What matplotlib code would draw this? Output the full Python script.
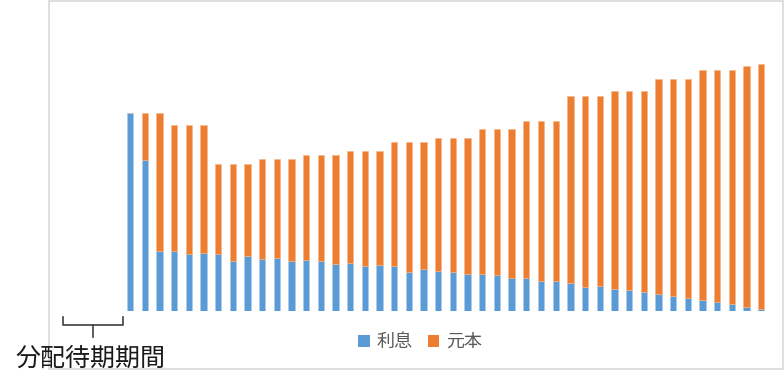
import matplotlib
matplotlib.use("Agg")
import matplotlib.pyplot as plt
from matplotlib.patches import Rectangle, Patch
from matplotlib.lines import Line2D

plt.rcParams['font.family'] = ['Noto Sans CJK JP', 'DejaVu Sans']

# periods: first 4 are the distribution waiting period (no payout)
periods = list(range(1, 49))
interest = [0, 0, 0, 0,
            198.3, 151.3, 59.7, 60.3, 57.3, 58.0, 56.7, 50.3, 55.0, 52.0,
            53.0, 50.3, 51.3, 50.3, 47.3, 48.0, 45.3, 46.0, 44.7, 39.0,
            42.0, 39.7, 39.3, 37.3, 37.3, 35.7, 33.3, 32.7, 30.0, 30.0,
            28.0, 24.0, 24.7, 22.0, 21.3, 19.0, 17.0, 15.3, 12.7, 11.3,
            9.0, 7.0, 4.3, 1.7]
principal = [0, 0, 0, 0,
             0.0, 47.0, 138.6, 125.4, 128.4, 127.7, 90.6, 97.0, 92.3, 99.7,
             98.7, 101.4, 104.7, 105.7, 108.7, 112.0, 114.7, 114.0, 124.3, 130.0,
             127.0, 133.3, 133.7, 135.7, 144.4, 146.0, 148.4, 157.0, 159.7, 159.7,
             187.0, 191.0, 190.3, 197.7, 198.4, 200.7, 215.0, 216.7, 219.3, 229.7,
             232.0, 234.0, 240.4, 245.0]
series_names = ['利息', '元本']
annotation = '分配待期期間'

blue = '#5B9BD5'
orange = '#ED7D31'

W, H = 784, 392
fig = plt.figure(figsize=(W / 100, H / 100), dpi=100)

# outer chart frame
fig.patches.append(Rectangle((49 / W, 1 - 369 / H), (783 - 49) / W, (369 - 1) / H,
                             transform=fig.transFigure, fill=False,
                             edgecolor='#D9D9D9', linewidth=1.2))

ax = fig.add_axes([64 / W, (H - 311) / H, 704.5 / W, 311 / H])
x = list(range(len(periods)))
ax.bar(x, interest, width=0.43, color=blue, edgecolor='#A9CBEA', linewidth=0.4)
ax.bar(x, principal, width=0.43, bottom=interest, color=orange,
       edgecolor='#F5B58A', linewidth=0.4)
ax.set_xlim(-0.5, len(periods) - 0.5)
ax.set_ylim(0, 311)
ax.axis('off')

# bracket under the waiting period
bc = '#404040'
pts_x = [62.5, 62.5, 122.5, 122.5]
pts_y = [317, 325, 325, 317]
fig.add_artist(Line2D([p / W for p in pts_x], [1 - p / H for p in pts_y],
                      transform=fig.transFigure, color=bc, linewidth=1.2))
fig.add_artist(Line2D([92.7 / W, 92.7 / W], [1 - 325 / H, 1 - 337 / H],
                      transform=fig.transFigure, color=bc, linewidth=1.2))

fig.text(15 / W, 1 - 358.5 / H, annotation, fontsize=18, color='#1a1a1a',
         va='center', ha='left')

handles = [Patch(facecolor=blue, edgecolor='none'),
           Patch(facecolor=orange, edgecolor='none')]
fig.legend(handles, series_names, loc='center', bbox_to_anchor=(420 / W, 1 - 342 / H),
           ncol=2, frameon=False, fontsize=13, labelcolor='#595959',
           handlelength=0.65, handleheight=0.65, handletextpad=0.35,
           columnspacing=0.85, borderpad=0, borderaxespad=0)

fig.savefig('out.png', dpi=100)
